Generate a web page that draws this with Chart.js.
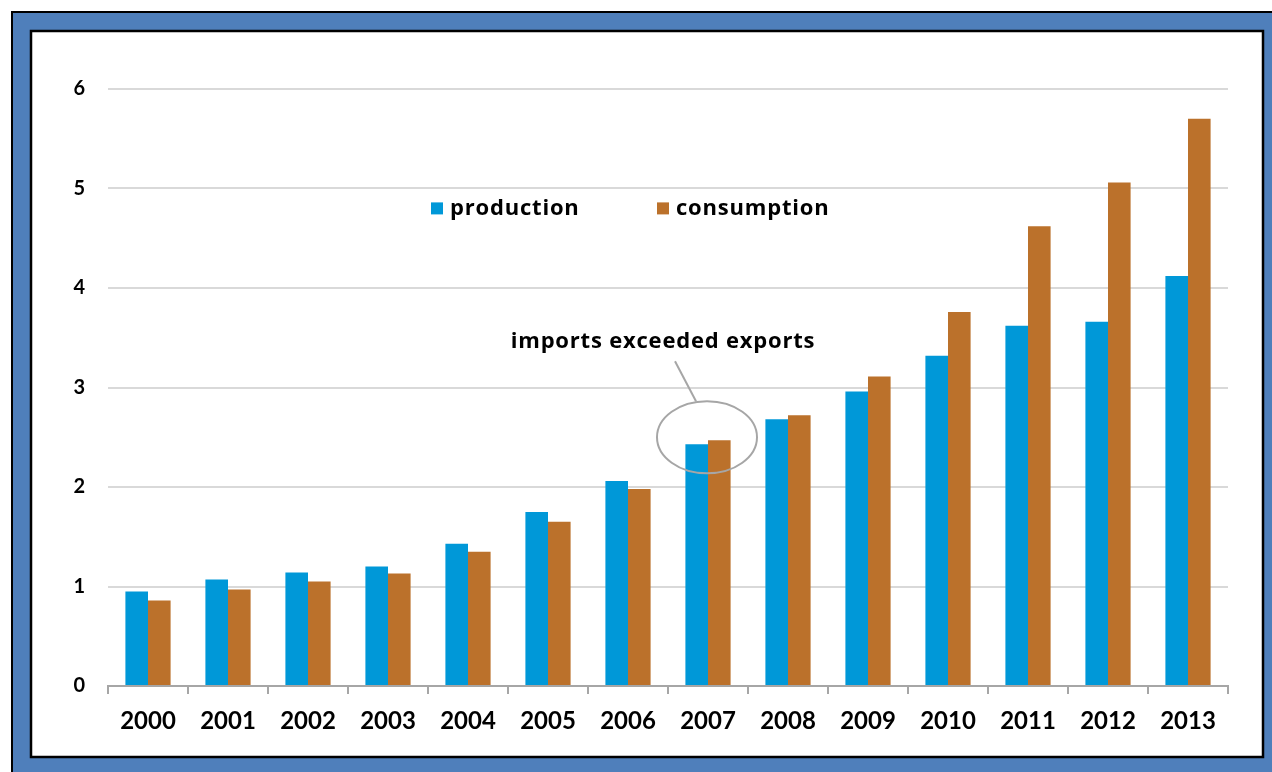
<!DOCTYPE html>
<html>
<head>
<meta charset="utf-8">
<script src="https://cdn.jsdelivr.net/npm/chart.js@4/dist/chart.umd.min.js"></script>
<style>
html,body{margin:0;padding:0;background:#fff;}
#wrap{position:absolute;left:0;top:0;width:1272px;height:772px;}
</style>
</head>
<body>
<div id="wrap"><canvas id="c" width="1272" height="772"></canvas></div>
<script>
const categories = ['2000','2001','2002','2003','2004','2005','2006','2007','2008','2009','2010','2011','2012','2013'];
const production = [0.95,1.07,1.14,1.20,1.43,1.75,2.06,2.43,2.68,2.96,3.32,3.62,3.66,4.12];
const consumption = [0.86,0.97,1.05,1.13,1.35,1.65,1.98,2.47,2.72,3.11,3.76,4.62,5.06,5.70];
const yTicks = [0,1,2,3,4,5,6];
const seriesNames = ['production','consumption'];
const annotationText = 'imports exceeded exports';
const annotationCategory = 7;   // 2007
const annotationValue = 2.5;

const BLUE = '#0098d8';
const BROWN = '#bb712b';
const FONT = 'Lato, "Open Sans", sans-serif';
const TFONT = '"Open Sans", Lato, sans-serif';

const framePlugin = {
  id: 'frame',
  beforeDraw(chart) {
    const ctx = chart.ctx;
    ctx.save();
    ctx.fillStyle = '#ffffff';
    ctx.fillRect(0, 0, chart.width, chart.height);
    ctx.fillStyle = '#4f7fbb';
    ctx.fillRect(12, 12, chart.width, chart.height);
    ctx.strokeStyle = '#000';
    ctx.lineWidth = 2;
    ctx.strokeRect(12, 12, chart.width + 10, chart.height + 10);
    ctx.fillStyle = '#ffffff';
    ctx.fillRect(31, 31, 1232, 726);
    ctx.lineWidth = 2.5;
    ctx.strokeRect(31, 31, 1232, 726);
    ctx.restore();
  }
};

const extrasPlugin = {
  id: 'extras',
  afterDatasetsDraw(chart) {
    const ctx = chart.ctx;
    const xs = chart.scales.x, ys = chart.scales.y;
    const ca = chart.chartArea;
    ctx.save();
    // legend
    ctx.font = 'bold 22px ' + TFONT;
    try { ctx.letterSpacing = '0.8px'; } catch (e) {}
    ctx.textBaseline = 'middle';
    ctx.textAlign = 'left';
    const ly = ys.getPixelForValue(4.8);
    const lx = [ca.left + 323, ca.left + 549];
    chart.data.datasets.forEach((ds, i) => {
      ctx.fillStyle = ds.backgroundColor;
      ctx.fillRect(lx[i], ly - 6, 12, 12);
      ctx.fillStyle = '#000';
      ctx.fillText(ds.label, lx[i] + 19, ly);
    });
    // annotation
    const cx = xs.getPixelForValue(annotationCategory) - 1;
    const cy = ys.getPixelForValue(annotationValue);
    ctx.strokeStyle = '#a6a6a6';
    ctx.lineWidth = 2;
    ctx.beginPath();
    ctx.ellipse(cx, cy, 50, 36, 0, 0, Math.PI * 2);
    ctx.stroke();
    ctx.beginPath();
    ctx.moveTo(cx - 11, cy - 36);
    ctx.lineTo(cx - 32, cy - 76);
    ctx.stroke();
    ctx.fillStyle = '#000';
    ctx.textAlign = 'center';
    ctx.fillText(annotationText, cx - 44, ys.getPixelForValue(3.47) + 1);
    ctx.restore();
  }
};

new Chart(document.getElementById('c'), {
  type: 'bar',
  data: {
    labels: categories,
    datasets: [
      { label: seriesNames[0], data: production, backgroundColor: BLUE, borderWidth: 0 },
      { label: seriesNames[1], data: consumption, backgroundColor: BROWN, borderWidth: 0 }
    ]
  },
  options: {
    responsive: false,
    animation: false,
    devicePixelRatio: 1,
    layout: { padding: { left: 0, right: 44, top: 89, bottom: 0 } },
    datasets: { bar: { categoryPercentage: 0.565, barPercentage: 1 } },
    plugins: { legend: { display: false }, tooltip: { enabled: false } },
    scales: {
      x: {
        offset: true,
        grid: { offset: true, drawOnChartArea: false, drawTicks: true, tickLength: 8, color: '#a6a6a6', lineWidth: 2 },
        border: { display: true, color: '#a6a6a6', width: 2 },
        ticks: { color: '#000', font: { family: FONT, size: 24, weight: 'bold' }, padding: 13, maxRotation: 0 },
        afterFit(scale) { scale.height = 86; }
      },
      y: {
        min: 0, max: 6,
        afterBuildTicks(scale) { scale.ticks = yTicks.map(v => ({ value: v })); },
        grid: { color: '#d9d9d9', lineWidth: 2, drawTicks: false, tickLength: 0 },
        border: { display: false },
        ticks: { color: '#000', font: { family: FONT, size: 20, weight: 'bold' }, padding: 23 },
        afterFit(scale) { scale.width = 108; }
      }
    }
  },
  plugins: [framePlugin, extrasPlugin]
});
</script>
</body>
</html>
